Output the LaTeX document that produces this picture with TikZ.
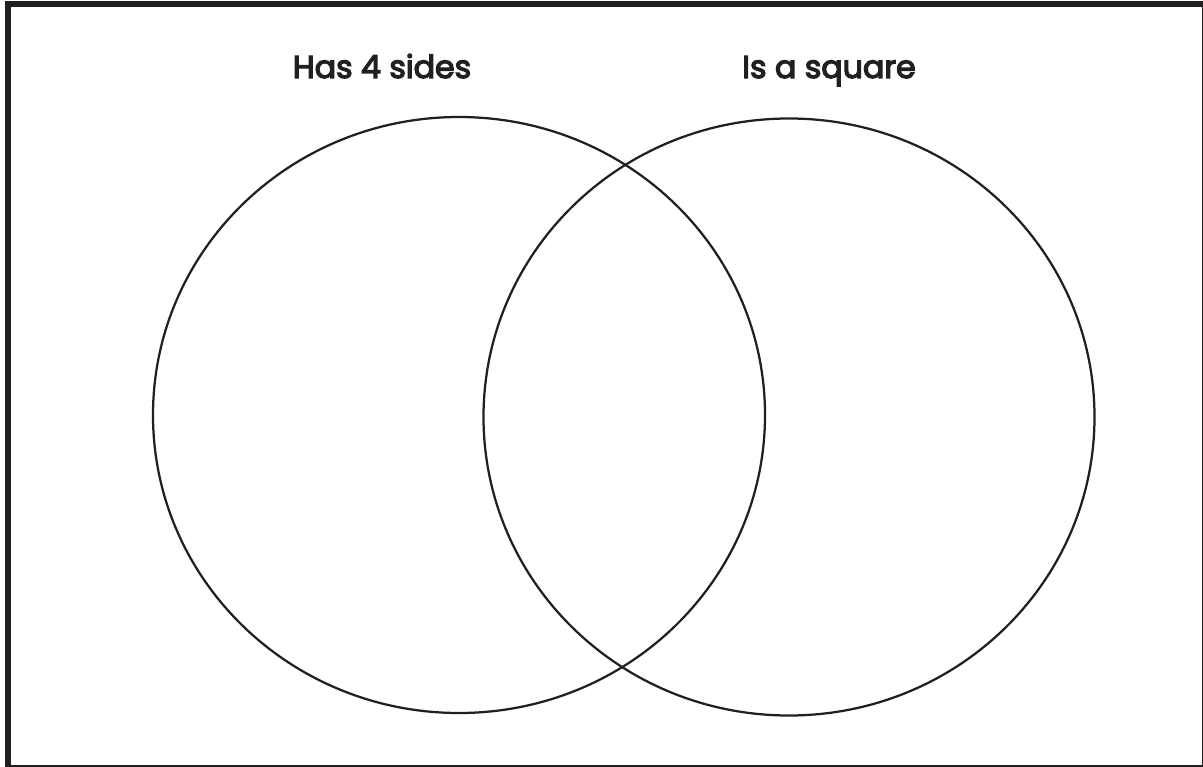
\documentclass[tikz,border=0pt]{standalone}
\usepackage{fontspec}
\setmainfont{Poppins}
\newfontfamily\labelfont{Poppins}[FakeBold=4]
\usepackage{xcolor}
\definecolor{ink}{HTML}{231F20}

\begin{document}
\begin{tikzpicture}[x=0.02cm,y=-0.02cm]
    \useasboundingbox (0,0) rectangle (1203,767);
    \clip (0,0) rectangle (1203,767);
    % frame
    \draw[ink,line width=0.12cm] (8,4.5) rectangle (1204.5,768);
    % the two sets
    \draw[ink,line width=0.045cm] (459,415) ellipse [x radius=306, y radius=298];
    \draw[ink,line width=0.045cm] (789,417) ellipse [x radius=305.5, y radius=298.5];
    \node[text=ink,font=\labelfont\fontsize{18}{22}\selectfont,anchor=base] (sides) at (382,78) {Has 4 sides};
    \node[text=ink,font=\labelfont\fontsize{18}{22}\selectfont,anchor=base] (square) at (829,78) {Is a square};
\end{tikzpicture}
\end{document}
